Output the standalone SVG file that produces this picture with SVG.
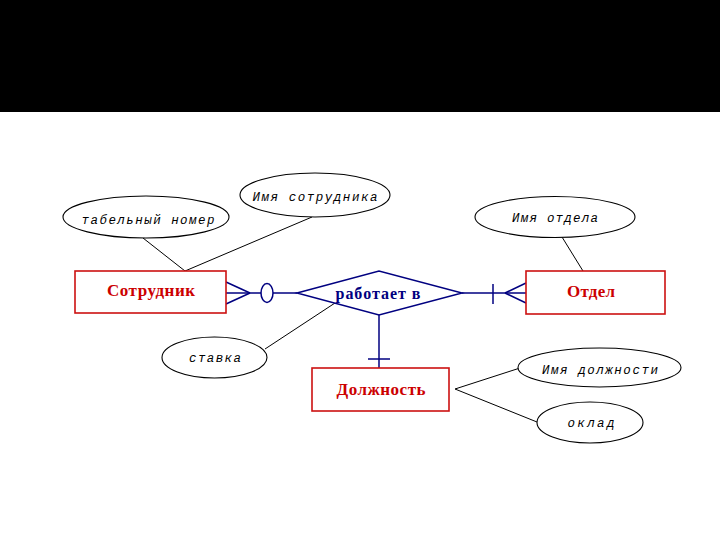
<svg xmlns="http://www.w3.org/2000/svg" width="720" height="540" viewBox="0 0 720 540">
<style>
.ent{fill:#ffffff;stroke:#cc1111;stroke-width:1.6}
.entt{font-family:"Liberation Serif",serif;font-weight:bold;font-size:17px;fill:#cc0000;text-anchor:middle}
.rel{fill:#ffffff;stroke:#000080;stroke-width:1.5}
.relt{font-family:"Liberation Serif",serif;font-weight:bold;font-size:16px;fill:#000080;text-anchor:middle}
.att{fill:#ffffff;stroke:#000000;stroke-width:1.1}
.attt{font-family:"Liberation Mono",monospace;font-style:italic;font-size:12.5px;fill:#000000;text-anchor:middle}
.al{stroke:#000000;stroke-width:1;fill:none}
.rl{stroke:#000080;stroke-width:1.5;fill:none}
</style>
<rect x="0" y="0" width="720" height="540" fill="#ffffff"/>
<rect x="0" y="0" width="720" height="112" fill="#000000"/>

<g id="connectors">
<line class="al" x1="143" y1="238" x2="185" y2="271"/>
<line class="al" x1="312" y1="217" x2="185" y2="271"/>
<line class="al" x1="562" y1="237" x2="583" y2="271"/>
<line class="al" x1="265" y1="349" x2="335" y2="303"/>
<line class="al" x1="455" y1="389" x2="520" y2="368"/>
<line class="al" x1="455" y1="389" x2="537" y2="422"/>
<line class="rl" x1="226" y1="293" x2="297" y2="293"/>
<line class="rl" x1="226" y1="282" x2="250" y2="293"/>
<line class="rl" x1="226" y1="304" x2="250" y2="293"/>
<ellipse class="rel" cx="267" cy="293" rx="6" ry="9.5"/>
<line class="rl" x1="462" y1="293" x2="526" y2="293"/>
<line class="rl" x1="493" y1="284" x2="493" y2="304"/>
<line class="rl" x1="505" y1="293" x2="526" y2="283"/>
<line class="rl" x1="505" y1="293" x2="526" y2="303"/>
<line class="rl" x1="379" y1="315" x2="379" y2="368"/>
<line class="rl" x1="368" y1="359" x2="390" y2="359"/>
</g>

<g id="attr-tabel">
<ellipse class="att" cx="146" cy="217" rx="83" ry="21"/>
<text class="attt" x="148" y="224" textLength="133" lengthAdjust="spacing">табельный номер</text>
</g>
<g id="attr-imya-sotr">
<ellipse class="att" cx="315" cy="195" rx="75" ry="22"/>
<text class="attt" x="315" y="201" textLength="125" lengthAdjust="spacing">Имя сотрудника</text>
</g>
<g id="attr-imya-otdela">
<ellipse class="att" cx="555" cy="217" rx="80" ry="20.5"/>
<text class="attt" x="555" y="222" textLength="86" lengthAdjust="spacing">Имя отдела</text>
</g>
<g id="attr-stavka">
<ellipse class="att" cx="214.5" cy="357.5" rx="52.5" ry="20.5"/>
<text class="attt" x="215" y="362" textLength="52" lengthAdjust="spacing">ставка</text>
</g>
<g id="attr-imya-dolzh">
<ellipse class="att" cx="599.5" cy="367.5" rx="81.5" ry="19.5"/>
<text class="attt" x="600" y="374" textLength="116" lengthAdjust="spacing">Имя должности</text>
</g>
<g id="attr-oklad">
<ellipse class="att" cx="590" cy="422.5" rx="53" ry="20.5"/>
<text class="attt" x="591" y="427" textLength="47" lengthAdjust="spacing">оклад</text>
</g>

<g id="ent-sotrudnik">
<rect class="ent" x="75" y="271" width="151" height="42"/>
<text class="entt" x="151" y="296" textLength="88" lengthAdjust="spacing">Сотрудник</text>
</g>
<g id="ent-otdel">
<rect class="ent" x="526" y="271" width="139" height="43"/>
<text class="entt" x="591" y="297" textLength="48" lengthAdjust="spacing">Отдел</text>
</g>
<g id="ent-dolzhnost">
<rect class="ent" x="312" y="368" width="137" height="43"/>
<text class="entt" x="381" y="395" textLength="89" lengthAdjust="spacing">Должность</text>
</g>

<g id="rel-rabotaet">
<polygon class="rel" points="297,293 379,271 462,293 379,315"/>
<text class="relt" x="378" y="299" textLength="85" lengthAdjust="spacing">работает в</text>
</g>
</svg>
